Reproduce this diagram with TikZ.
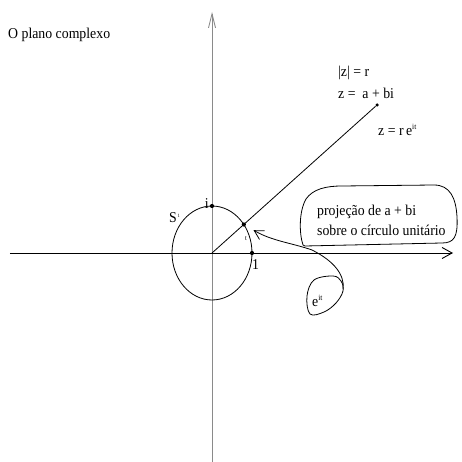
\documentclass[tikz,border=0pt]{standalone}
\usepackage{fontspec}
\setmainfont{Liberation Serif}[FakeStretch=0.92]
\usetikzlibrary{arrows.meta}
\definecolor{axisgray}{HTML}{8A8A8A}
\tikzset{
  axis/.style    = {line width=0.9pt, -{Straight Barb[length=10pt,width=11pt]}},
  vaxis/.style   = {line width=0.9pt, draw=axisgray, -{Straight Barb[length=14pt,width=7pt]}},
  curve/.style   = {line width=0.8pt},
  pointer/.style = {line width=0.8pt, -{Straight Barb[length=9pt,width=10pt]}},
  dot/.style     = {circle, fill=black, inner sep=0pt, minimum size=4.2pt},
  lbl/.style     = {font=\fontsize{15}{20}\selectfont, inner sep=0pt, anchor=west},
  tinylbl/.style = {font=\fontsize{7}{8}\selectfont, inner sep=0pt},
}
\newcommand{\supit}[1]{\textsuperscript{\fontsize{8}{8}\selectfont #1}}
\begin{document}
\begin{tikzpicture}[x=1pt,y=1pt]
  \useasboundingbox (-212,-209) rectangle (249,253);

  % axes
  \coordinate (O) at (0,0);
  \draw[vaxis] (0,-209) -- (0,241);
  \draw[axis] (-202,0) -- (241,0);

  % unit circle
  \draw[curve] (O) ellipse [x radius=40pt, y radius=47pt];
  \node[dot] (ipt) at (0,47) {};
  \node[dot] (onept) at (40,0) {};
  \node[dot] (tpt) at (31.8,28.5) {};
  \node[dot, minimum size=3.5pt] (zpt) at (165,148) {};
  \draw[curve] (O) -- (zpt);

  \node[lbl] (title) at (-204,218) {O plano complexo};
  \node[lbl] (modz) at (126,180) {|z| = r};
  \node[lbl] (zab) at (126,160) {z =\ \ a + bi};
  \node[lbl] (zexp) at (166,123) {z = r\,e\supit{it}};
  \node[lbl] (sone) at (-43,35) {S\textsuperscript{\fontsize{5}{6}\selectfont\,1}};
  \node[lbl, anchor=east] (ilbl) at (-3,49) {i};
  \node[lbl] (onelbl) at (40,-12) {1};
  \node[tinylbl] (tlbl) at (34,14) {t};

  % callout
  \node[lbl, align=left] (proj) at (105,33) {projeção de a + bi\\sobre o círculo unitário};
  \draw[curve] (91,8) .. controls (87,20) and (87,42) .. (94,54)
    .. controls (101,64) and (114,67) .. (130,67) -- (222,68)
    .. controls (238,68) and (244,55) .. (245,36)
    .. controls (246,16) and (242,10) .. (230,10) -- (93,7) .. controls (92,7) .. cycle;

  \node[lbl] (eit) at (100,-48) {e\supit{it}};
  \draw[curve] plot[smooth cycle, tension=0.6] coordinates
    {(121,-23) (102,-27) (95,-43) (98,-61) (112,-59) (124,-50) (131,-38) (129,-28)};
  \coordinate (tail) at (131,-36);
  \draw[pointer, shorten >=9pt] (tail) .. controls (133,-22) and (122,-8) .. (100,3)
    .. controls (80,10) and (60,12) .. (tpt);
\end{tikzpicture}
\end{document}
